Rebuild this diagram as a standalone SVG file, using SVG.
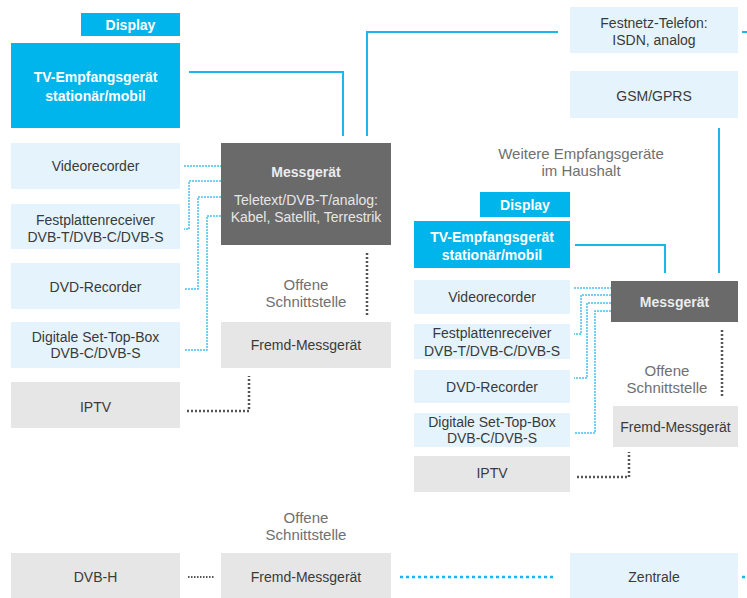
<svg xmlns="http://www.w3.org/2000/svg" width="747" height="598" viewBox="0 0 747 598">
<style>
text{font-family:"Liberation Sans",Arial,sans-serif;font-size:14px;text-anchor:middle}
.cy{fill:#00b4ec}
.lb{fill:#e5f4fc}
.gr{fill:#e6e6e6}
.dk{fill:#6a6a6a}
.wt{fill:#ffffff;font-weight:bold}
.tx{fill:#3a3a3a}
.mt{fill:#ececec;font-weight:bold}
.mt2{fill:#e6e6e6}
.of{fill:#707070;font-size:15px}
.solid{fill:none;stroke:#1ab6ec;stroke-width:2}
.bdot{fill:none;stroke:#45c0ef;stroke-width:1.5;stroke-dasharray:2 1}
.kdot{fill:none;stroke:#555;stroke-width:2.5;stroke-dasharray:2 2}
.bdot2{fill:none;stroke:#22b2ec;stroke-width:2.5;stroke-dasharray:3 3}
</style>
<rect width="747" height="598" fill="#ffffff"/>
<g id="connectors">
<polyline class="solid" points="189,72 343,72 343,136"/>
<polyline class="solid" points="367,136 367,32 558,32"/>
<line class="solid" x1="742" y1="32" x2="747" y2="32"/>
<line class="solid" x1="719" y1="128" x2="719" y2="273"/>
<polyline class="solid" points="575,245 665,245 665,273"/>
<line class="bdot" x1="184" y1="166" x2="221" y2="166"/>
<polyline class="bdot" points="221,181 189,181 189,229 184,229"/>
<polyline class="bdot" points="221,197 198,197 198,289 184,289"/>
<polyline class="bdot" points="221,216 207,216 207,350 184,350"/>
<line class="bdot" x1="574" y1="288" x2="611" y2="288"/>
<polyline class="bdot" points="611,295 581,295 581,334 574,334"/>
<polyline class="bdot" points="611,303 587,303 587,378 574,378"/>
<polyline class="bdot" points="611,311 595,311 595,433 574,433"/>
<line class="kdot" x1="367" y1="253" x2="367" y2="315"/>
<polyline class="kdot" points="187,411 249,411 249,376"/>
<line class="kdot" x1="722" y1="330" x2="722" y2="396"/>
<polyline class="kdot" points="577,477 629,477 629,452"/>
<line class="kdot" x1="188" y1="577" x2="215" y2="577" style="stroke-width:2;stroke-dasharray:1.5 1.5"/>
<line class="bdot2" x1="400" y1="577" x2="555" y2="577"/>
<line class="bdot2" x1="742" y1="577" x2="747" y2="577"/>
</g>
<g id="display-left"><rect class="cy" x="81" y="13" width="99" height="23"/><text class="wt" x="130.5" y="30">Display</text></g>
<g id="tv-left"><rect class="cy" x="11" y="43" width="169" height="85"/><text class="wt" x="95.5" y="82">TV-Empfangsgerät</text><text class="wt" x="95.5" y="101">stationär/mobil</text></g>
<g id="video-left"><rect class="lb" x="11" y="143" width="169" height="46"/><text class="tx" x="95.5" y="171">Videorecorder</text></g>
<g id="festplatte-left"><rect class="lb" x="11" y="204" width="169" height="45"/><text class="tx" x="95.5" y="225">Festplattenreceiver</text><text class="tx" x="95.5" y="242">DVB-T/DVB-C/DVB-S</text></g>
<g id="dvd-left"><rect class="lb" x="11" y="263" width="169" height="46"/><text class="tx" x="95.5" y="292">DVD-Recorder</text></g>
<g id="stb-left"><rect class="lb" x="11" y="322" width="169" height="46"/><text class="tx" x="95.5" y="342">Digitale Set-Top-Box</text><text class="tx" x="95.5" y="358">DVB-C/DVB-S</text></g>
<g id="iptv-left"><rect class="gr" x="11" y="382" width="169" height="46"/><text class="tx" x="95.5" y="412">IPTV</text></g>
<g id="mess-left"><rect class="dk" x="221" y="143" width="170" height="102"/><text class="mt" x="306" y="177">Messgerät</text><text class="mt2" x="306" y="205">Teletext/DVB-T/analog:</text><text class="mt2" x="306" y="222">Kabel, Satellit, Terrestrik</text></g>
<g id="offen-left"><text class="of" x="306" y="290">Offene</text><text class="of" x="306" y="307">Schnittstelle</text></g>
<g id="fremd-left"><rect class="gr" x="221" y="322" width="170" height="46"/><text class="tx" x="306" y="350">Fremd-Messgerät</text></g>
<g id="festnetz"><rect class="lb" x="570" y="7" width="168" height="46"/><text class="tx" x="654" y="28">Festnetz-Telefon:</text><text class="tx" x="654" y="45">ISDN, analog</text></g>
<g id="gsm"><rect class="lb" x="570" y="71" width="168" height="47"/><text class="tx" x="654" y="101">GSM/GPRS</text></g>
<g id="weitere"><text class="of" x="581" y="159">Weitere Empfangsgeräte</text><text class="of" x="581" y="176">im Haushalt</text></g>
<g id="display-right"><rect class="cy" x="480" y="192" width="90" height="25"/><text class="wt" x="525" y="210">Display</text></g>
<g id="tv-right"><rect class="cy" x="414" y="221" width="156" height="47"/><text class="wt" x="492" y="242">TV-Empfangsgerät</text><text class="wt" x="492" y="260">stationär/mobil</text></g>
<g id="video-right"><rect class="lb" x="414" y="280" width="156" height="34"/><text class="tx" x="492" y="302">Videorecorder</text></g>
<g id="festplatte-right"><rect class="lb" x="414" y="324" width="156" height="35"/><text class="tx" x="492" y="338">Festplattenreceiver</text><text class="tx" x="492" y="356">DVB-T/DVB-C/DVB-S</text></g>
<g id="dvd-right"><rect class="lb" x="414" y="370" width="156" height="33"/><text class="tx" x="492" y="392">DVD-Recorder</text></g>
<g id="stb-right"><rect class="lb" x="414" y="413" width="156" height="34"/><text class="tx" x="492" y="427">Digitale Set-Top-Box</text><text class="tx" x="492" y="443">DVB-C/DVB-S</text></g>
<g id="iptv-right"><rect class="gr" x="414" y="456" width="156" height="36"/><text class="tx" x="492" y="478">IPTV</text></g>
<g id="mess-right"><rect class="dk" x="611" y="281" width="127" height="41"/><text class="mt" x="674.5" y="307">Messgerät</text></g>
<g id="offen-right"><text class="of" x="667" y="376">Offene</text><text class="of" x="667" y="393">Schnittstelle</text></g>
<g id="fremd-right"><rect class="gr" x="613" y="406" width="125" height="41"/><text class="tx" x="675.5" y="432">Fremd-Messgerät</text></g>
<g id="offen-bottom"><text class="of" x="306" y="523">Offene</text><text class="of" x="306" y="540">Schnittstelle</text></g>
<g id="dvbh"><rect class="gr" x="11" y="553" width="169" height="45"/><text class="tx" x="95.5" y="582">DVB-H</text></g>
<g id="fremd-bottom"><rect class="gr" x="221" y="553" width="170" height="45"/><text class="tx" x="306" y="582">Fremd-Messgerät</text></g>
<g id="zentrale"><rect class="lb" x="570" y="553" width="168" height="45"/><text class="tx" x="654" y="582">Zentrale</text></g>
</svg>
